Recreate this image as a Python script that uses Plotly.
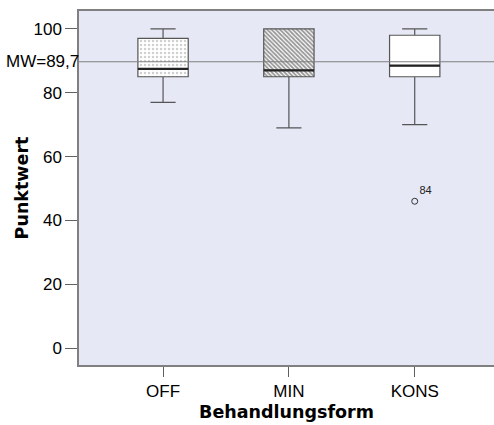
import plotly.graph_objects as go

categories = ["OFF", "MIN", "KONS"]
q1 = [85, 85, 85]
median = [87.5, 87, 88.5]
q3 = [97, 100, 98]
lower_whisker = [77, 69, 70]
upper_whisker = [100, 100, 100]
outlier_cat = ["KONS"]
outlier_val = [46]
outlier_label = ["84"]
mean_value = 89.7
mean_label = "MW=89,7"
y_ticks = [0, 20, 40, 60, 80, 100]

patterns = [
    dict(shape=".", fgcolor="#a0a0a0", bgcolor="white", size=4, solidity=0.3),
    dict(shape="\\", fgcolor="#2e2e2e", bgcolor="white", size=3, solidity=0.6),
    dict(shape="", fgcolor="white", bgcolor="white"),
]

fig = go.Figure()

for i, c in enumerate(categories):
    fig.add_trace(go.Bar(
        x=[c], y=[q3[i] - q1[i]], base=[q1[i]], width=0.4,
        marker=dict(color="white", pattern=patterns[i], line=dict(width=0)),
        showlegend=False, hoverinfo="skip",
    ))

fig.add_trace(go.Box(
    x=categories, q1=q1, median=median, q3=q3,
    lowerfence=lower_whisker, upperfence=upper_whisker,
    width=0.4, whiskerwidth=0.5,
    fillcolor="rgba(0,0,0,0)",
    line=dict(color="#555555", width=1.2),
    showlegend=False, boxpoints=False,
))

# thick median line
fig.add_trace(go.Box(
    x=categories, q1=median, median=median, q3=median,
    lowerfence=median, upperfence=median,
    width=0.4, whiskerwidth=0,
    fillcolor="rgba(0,0,0,0)",
    line=dict(color="#222222", width=2.2),
    showlegend=False, boxpoints=False, hoverinfo="skip",
))

fig.add_trace(go.Scatter(
    x=outlier_cat, y=outlier_val, mode="markers+text",
    text=outlier_label, textposition="top right",
    textfont=dict(family="Liberation Sans", size=11, color="#222"),
    marker=dict(symbol="circle-open", size=6, color="#333", line=dict(width=1)),
    showlegend=False,
))

fig.add_hline(y=mean_value, line=dict(color="#808080", width=1), layer="above")
fig.add_annotation(
    x=0, xref="paper", y=mean_value, yref="y", text=mean_label,
    showarrow=False, xanchor="right", yanchor="middle", xshift=2,
    font=dict(family="Liberation Sans", size=17, color="black"),
)

fig.update_layout(
    width=494, height=425,
    margin=dict(l=79, r=0, t=11, b=60, autoexpand=False),
    paper_bgcolor="white", plot_bgcolor="#E6E8F5",
    bargap=0, barmode="overlay", boxmode="overlay",
    font=dict(family="Liberation Sans", size=17, color="black"),
    xaxis=dict(
        type="category", categoryorder="array", categoryarray=categories,
        range=[-0.668, 2.63], automargin=False,
        showline=True, linecolor="#808080", linewidth=1.5, mirror=True,
        ticks="outside", ticklen=10, tickcolor="#606060", tickwidth=1,
        showgrid=False, zeroline=False,
        title=dict(text="Behandlungsform", standoff=6,
                   font=dict(family="DejaVu Sans", size=17.5, weight="bold")),
    ),
    yaxis=dict(
        range=[-5.3, 105.6], tickvals=y_ticks, automargin=False,
        showline=True, linecolor="#808080", linewidth=1.5,
        ticks="outside", ticklen=12, tickcolor="#606060", tickwidth=1,
        showgrid=False, zeroline=False,
        title=dict(text="Punktwert", standoff=0,
                   font=dict(family="DejaVu Sans", size=17.5, weight="bold")),
    ),
)

fig.write_html(
    "out.html",
    config={"displayModeBar": False},
    post_script="document.body.style.margin='0';document.body.style.overflow='hidden';",
)
